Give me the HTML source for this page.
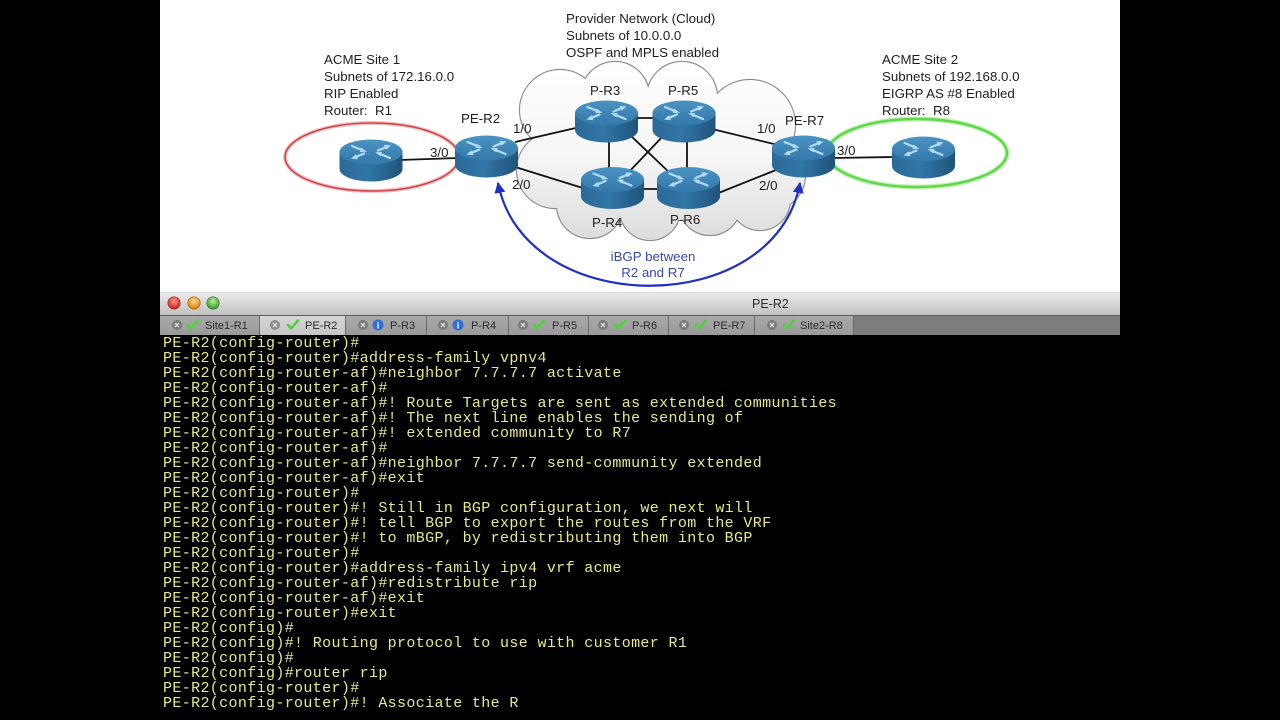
<!DOCTYPE html>
<html><head><meta charset="utf-8">
<style>
html,body{margin:0;padding:0;background:#000;}
body{width:1280px;height:720px;position:relative;overflow:hidden;}
svg{position:absolute;left:0;top:0;}
pre{position:absolute;left:163px;top:336px;margin:0;font-family:"Liberation Mono",monospace;font-size:15px;letter-spacing:0.36px;line-height:15px;color:#e8e88e;white-space:pre;}
</style></head>
<body>
<svg width="1280" height="720" viewBox="0 0 1280 720" xmlns="http://www.w3.org/2000/svg">
<defs>
 <linearGradient id="cg" x1="0" y1="60" x2="0" y2="242" gradientUnits="userSpaceOnUse">
  <stop offset="0" stop-color="#ffffff"/><stop offset="0.55" stop-color="#f5f5f5"/><stop offset="1" stop-color="#dcdcdc"/>
 </linearGradient>
 <linearGradient id="rtop" x1="0" y1="0" x2="0" y2="1">
  <stop offset="0" stop-color="#4a93c3"/><stop offset="1" stop-color="#3379a9"/>
 </linearGradient>
 <linearGradient id="rside" x1="0" y1="0" x2="1" y2="0">
  <stop offset="0" stop-color="#2b6a96"/><stop offset="0.45" stop-color="#3176a6"/><stop offset="1" stop-color="#1f547a"/>
 </linearGradient>
 <linearGradient id="tb" x1="0" y1="0" x2="0" y2="1">
  <stop offset="0" stop-color="#ececec"/><stop offset="1" stop-color="#bfbfbf"/>
 </linearGradient>
 <linearGradient id="tabi" x1="0" y1="0" x2="0" y2="1">
  <stop offset="0" stop-color="#a9a9a9"/><stop offset="1" stop-color="#9a9a9a"/>
 </linearGradient>
 <linearGradient id="taba" x1="0" y1="0" x2="0" y2="1">
  <stop offset="0" stop-color="#d6d6d6"/><stop offset="1" stop-color="#c6c6c6"/>
 </linearGradient>
 <radialGradient id="lr" cx="0.5" cy="0.35" r="0.6"><stop offset="0" stop-color="#ff9a90"/><stop offset="1" stop-color="#c8231c"/></radialGradient>
 <radialGradient id="lo" cx="0.5" cy="0.35" r="0.6"><stop offset="0" stop-color="#ffd890"/><stop offset="1" stop-color="#d9820f"/></radialGradient>
 <radialGradient id="lg" cx="0.5" cy="0.35" r="0.6"><stop offset="0" stop-color="#b8f0a0"/><stop offset="1" stop-color="#3e9a2a"/></radialGradient>
 <marker id="ah" viewBox="0 0 10 10" refX="9" refY="5" markerUnits="userSpaceOnUse" markerWidth="11" markerHeight="11" orient="auto-start-reverse">
  <path d="M0,0 L10,5 L0,10 z" fill="#2030c0"/>
 </marker>
 <g id="rt">
  <path d="M-31.5 0 V17 A31.5 12.5 0 0 0 31.5 17 V0 Z" fill="url(#rside)"/>
  <ellipse cx="0" cy="0" rx="31.5" ry="12.5" fill="url(#rtop)"/>
  <g stroke="#b4dcf4" stroke-width="2.2" fill="#b4dcf4" stroke-linecap="round">
   <line x1="-19" y1="-6" x2="-8" y2="-1.5"/>
   <polygon points="-4,-0.3 -10,-4.5 -11,0" stroke="none"/>
   <line x1="19" y1="6" x2="8" y2="1.5"/>
   <polygon points="4,0.3 10,4.5 11,0" stroke="none"/>
   <line x1="7" y1="-1.5" x2="15" y2="-4.8"/>
   <polygon points="20,-6.5 13,-7.2 15,-2.2" stroke="none"/>
   <line x1="-7" y1="1.5" x2="-15" y2="4.8"/>
   <polygon points="-20,6.5 -13,7.2 -15,2.2" stroke="none"/>
  </g>
 </g>
</defs>

<!-- diagram background -->
<rect x="160" y="0" width="960" height="293" fill="#ffffff"/>

<!-- cloud -->
<g fill="none" stroke="#8a8a8a" stroke-width="2.2">
 <circle cx="560" cy="110" r="40"/>
 <circle cx="615" cy="96" r="34"/>
 <circle cx="682" cy="97" r="35"/>
 <circle cx="750" cy="125" r="45"/>
 <circle cx="770" cy="175" r="35"/>
 <circle cx="555" cy="170" r="38"/>
 <circle cx="590" cy="205" r="33"/>
 <circle cx="650" cy="210" r="30"/>
 <circle cx="710" cy="204" r="31"/>
 <circle cx="760" cy="200" r="30"/>
</g>
<g fill="url(#cg)" stroke="none">
 <circle cx="560" cy="110" r="40"/>
 <circle cx="615" cy="96" r="34"/>
 <circle cx="682" cy="97" r="35"/>
 <circle cx="750" cy="125" r="45"/>
 <circle cx="770" cy="175" r="35"/>
 <circle cx="555" cy="170" r="38"/>
 <circle cx="590" cy="205" r="33"/>
 <circle cx="650" cy="210" r="30"/>
 <circle cx="710" cy="204" r="31"/>
 <circle cx="760" cy="200" r="30"/>
 <ellipse cx="665" cy="155" rx="120" ry="65"/>
</g>

<!-- site ellipses -->
<ellipse cx="372" cy="157" rx="87" ry="34" fill="none" stroke="#f2c4c4" stroke-width="4"/>
<ellipse cx="372" cy="157" rx="87" ry="34" fill="none" stroke="#d2454a" stroke-width="1.6"/>
<ellipse cx="917" cy="153" rx="90" ry="34" fill="none" stroke="#c2f2b4" stroke-width="5"/>
<ellipse cx="917" cy="153" rx="90" ry="34" fill="none" stroke="#5ed84a" stroke-width="2.4"/>

<!-- links -->
<g stroke="#111" stroke-width="1.8" fill="none">
 <line x1="400" y1="160" x2="458" y2="158"/>
 <line x1="515" y1="142" x2="580" y2="127"/>
 <line x1="512" y1="166" x2="586" y2="189"/>
 <line x1="636" y1="118" x2="656" y2="118"/>
 <line x1="609" y1="140" x2="609" y2="172"/>
 <line x1="687" y1="140" x2="687" y2="172"/>
 <line x1="630" y1="135" x2="672" y2="175"/>
 <line x1="664" y1="135" x2="626" y2="175"/>
 <line x1="640" y1="189" x2="660" y2="189"/>
 <line x1="712" y1="129" x2="778" y2="145"/>
 <line x1="716" y1="194" x2="776" y2="170"/>
 <line x1="832" y1="158" x2="895" y2="157"/>
</g>

<!-- routers -->
<use href="#rt" x="371" y="152"/>
<use href="#rt" x="486.5" y="148"/>
<use href="#rt" x="606.5" y="113"/>
<use href="#rt" x="684" y="113"/>
<use href="#rt" x="612.5" y="179.5"/>
<use href="#rt" x="688.5" y="179.5"/>
<use href="#rt" x="803.5" y="148"/>
<use href="#rt" x="923.5" y="149"/>

<!-- iBGP arc -->
<path d="M 498 183 C 525 320, 775 320, 800 183" fill="none" stroke="#2030c0" stroke-width="2.2" marker-start="url(#ah)" marker-end="url(#ah)"/>

<!-- labels -->
<g font-family="'Liberation Sans', Arial, sans-serif" font-size="13.3" fill="#1e1e1e">
 <text x="324" y="64">ACME Site 1</text>
 <text x="324" y="81">Subnets of 172.16.0.0</text>
 <text x="324" y="98">RIP Enabled</text>
 <text x="324" y="115">Router:&#160; R1</text>
 <text x="566" y="23">Provider Network (Cloud)</text>
 <text x="566" y="40">Subnets of 10.0.0.0</text>
 <text x="566" y="57">OSPF and MPLS enabled</text>
 <text x="882" y="64">ACME Site 2</text>
 <text x="882" y="81">Subnets of 192.168.0.0</text>
 <text x="882" y="98">EIGRP AS #8 Enabled</text>
 <text x="882" y="115">Router:&#160; R8</text>
 <text x="461" y="123">PE-R2</text>
 <text x="590" y="95">P-R3</text>
 <text x="668" y="95">P-R5</text>
 <text x="592" y="227">P-R4</text>
 <text x="670" y="224">P-R6</text>
 <text x="785" y="125">PE-R7</text>
 <text x="513" y="133">1/0</text>
 <text x="430" y="157">3/0</text>
 <text x="512" y="189">2/0</text>
 <text x="757" y="133">1/0</text>
 <text x="759" y="190">2/0</text>
 <text x="837" y="155">3/0</text>
</g>
<g font-family="'Liberation Sans', Arial, sans-serif" font-size="13.3" fill="#3848a8" text-anchor="middle">
 <text x="653" y="261">iBGP between</text>
 <text x="653" y="277">R2 and R7</text>
</g>

<!-- title bar -->
<rect x="160" y="292" width="960" height="24" fill="url(#tb)"/>
<line x1="160" y1="292.5" x2="1120" y2="292.5" stroke="#d8d8d8"/>
<circle cx="174" cy="303" r="6.2" fill="url(#lr)" stroke="#9a2a24" stroke-width="0.6"/>
<circle cx="194" cy="303" r="6.2" fill="url(#lo)" stroke="#a06010" stroke-width="0.6"/>
<circle cx="213" cy="303" r="6.2" fill="url(#lg)" stroke="#2e7420" stroke-width="0.6"/>
<text x="752" y="308" font-family="'Liberation Sans', Arial, sans-serif" font-size="12.5" fill="#2a2a2a">PE-R2</text>

<!-- tab bar -->
<rect x="160" y="316" width="960" height="19" fill="#7e7e7e"/>
<line x1="160" y1="315.5" x2="1120" y2="315.5" stroke="#5a5a5a"/>
<rect x="160" y="316" width="99" height="19" fill="url(#tabi)"/>
<rect x="260" y="316" width="85" height="19" fill="url(#taba)"/>
<rect x="346" y="316" width="80" height="19" fill="url(#tabi)"/>
<rect x="427" y="316" width="81" height="19" fill="url(#tabi)"/>
<rect x="509" y="316" width="79" height="19" fill="url(#tabi)"/>
<rect x="589" y="316" width="79" height="19" fill="url(#tabi)"/>
<rect x="669" y="316" width="85" height="19" fill="url(#tabi)"/>
<rect x="755" y="316" width="98" height="19" fill="url(#tabi)"/>
<g stroke="#6a6a6a" stroke-width="1">
 <line x1="259.5" y1="316" x2="259.5" y2="335"/>
 <line x1="345.5" y1="316" x2="345.5" y2="335"/>
 <line x1="426.5" y1="316" x2="426.5" y2="335"/>
 <line x1="508.5" y1="316" x2="508.5" y2="335"/>
 <line x1="588.5" y1="316" x2="588.5" y2="335"/>
 <line x1="668.5" y1="316" x2="668.5" y2="335"/>
 <line x1="754.5" y1="316" x2="754.5" y2="335"/>
 <line x1="853.5" y1="316" x2="853.5" y2="335"/>
</g>
<!-- close icons -->
<g>
 <circle cx="177" cy="325" r="5" fill="#7a7a7a"/>
 <circle cx="275" cy="325" r="5" fill="#8c8c8c"/>
 <circle cx="363" cy="325" r="5" fill="#7a7a7a"/>
 <circle cx="443" cy="325" r="5" fill="#7a7a7a"/>
 <circle cx="523" cy="325" r="5" fill="#7a7a7a"/>
 <circle cx="603" cy="325" r="5" fill="#7a7a7a"/>
 <circle cx="684" cy="325" r="5" fill="#7a7a7a"/>
 <circle cx="772" cy="325" r="5" fill="#7a7a7a"/>
</g>
<g stroke="#dddddd" stroke-width="1.3">
 <path d="M175 323 l4 4 M179 323 l-4 4"/>
 <path d="M273 323 l4 4 M277 323 l-4 4"/>
 <path d="M361 323 l4 4 M365 323 l-4 4"/>
 <path d="M441 323 l4 4 M445 323 l-4 4"/>
 <path d="M521 323 l4 4 M525 323 l-4 4"/>
 <path d="M601 323 l4 4 M605 323 l-4 4"/>
 <path d="M682 323 l4 4 M686 323 l-4 4"/>
 <path d="M770 323 l4 4 M774 323 l-4 4"/>
</g>
<!-- check marks -->
<g fill="none" stroke="#4ed23a" stroke-width="2.6" stroke-linecap="round" stroke-linejoin="round">
 <path d="M188 325 l3 3.5 l7 -8"/>
 <path d="M288 325 l3 3.5 l7 -8"/>
 <path d="M534 325 l3 3.5 l7 -8"/>
 <path d="M615 325 l3 3.5 l7 -8"/>
 <path d="M696 325 l3 3.5 l7 -8"/>
 <path d="M784 325 l3 3.5 l7 -8"/>
</g>
<!-- info icons -->
<circle cx="378" cy="325" r="5.5" fill="#2f6fd8"/>
<circle cx="458" cy="325" r="5.5" fill="#2f6fd8"/>
<g font-family="'Liberation Sans', Arial, sans-serif" font-size="9" font-weight="bold" fill="#ffffff" text-anchor="middle">
 <text x="378" y="328.5">i</text>
 <text x="458" y="328.5">i</text>
</g>
<g font-family="'Liberation Sans', Arial, sans-serif" font-size="11" fill="#2a2a2a">
 <text x="205" y="329">Site1-R1</text>
 <text x="305" y="329">PE-R2</text>
 <text x="390" y="329">P-R3</text>
 <text x="471" y="329">P-R4</text>
 <text x="552" y="329">P-R5</text>
 <text x="632" y="329">P-R6</text>
 <text x="713" y="329">PE-R7</text>
 <text x="800" y="329">Site2-R8</text>
</g>
</svg>
<pre>PE-R2(config-router)#
PE-R2(config-router)#address-family vpnv4
PE-R2(config-router-af)#neighbor 7.7.7.7 activate
PE-R2(config-router-af)#
PE-R2(config-router-af)#! Route Targets are sent as extended communities
PE-R2(config-router-af)#! The next line enables the sending of
PE-R2(config-router-af)#! extended community to R7
PE-R2(config-router-af)#
PE-R2(config-router-af)#neighbor 7.7.7.7 send-community extended
PE-R2(config-router-af)#exit
PE-R2(config-router)#
PE-R2(config-router)#! Still in BGP configuration, we next will
PE-R2(config-router)#! tell BGP to export the routes from the VRF
PE-R2(config-router)#! to mBGP, by redistributing them into BGP
PE-R2(config-router)#
PE-R2(config-router)#address-family ipv4 vrf acme
PE-R2(config-router-af)#redistribute rip
PE-R2(config-router-af)#exit
PE-R2(config-router)#exit
PE-R2(config)#
PE-R2(config)#! Routing protocol to use with customer R1
PE-R2(config)#
PE-R2(config)#router rip
PE-R2(config-router)#
PE-R2(config-router)#! Associate the R</pre>
</body></html>
